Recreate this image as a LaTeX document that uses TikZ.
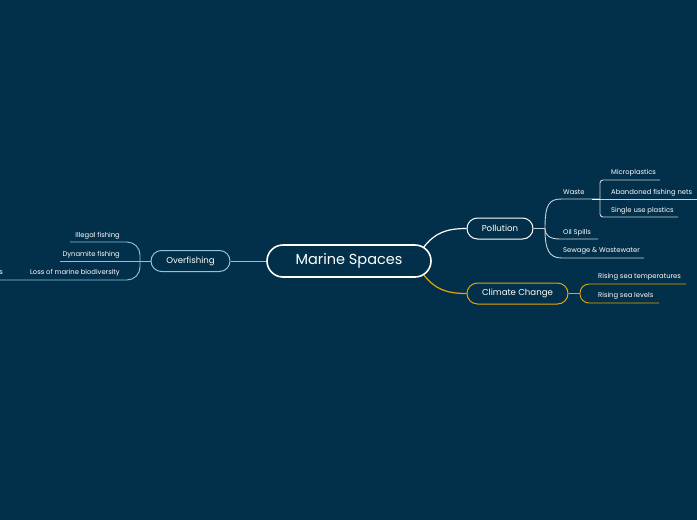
\documentclass[tikz,border=0pt]{standalone}
\usepackage{fontspec}
\setmainfont{Poppins}
\usetikzlibrary{calc}
\definecolor{bg}{HTML}{02304A}
\definecolor{lblue}{HTML}{8CC4DE}
\definecolor{gold}{HTML}{E5A600}
\definecolor{lgrey}{HTML}{C9D3D9}
\begin{document}
\begin{tikzpicture}[x=1pt,y=-1pt,
  topic/.style={draw=white, line width=1.6pt, rounded corners=16pt, minimum width=164pt, minimum height=32pt, text=white, font=\fontsize{14.5}{17}\selectfont, inner sep=0pt},
  mainbr/.style={draw, line width=1pt, rounded corners=10.5pt, text=white, font=\fontsize{8.6}{10}\selectfont, minimum height=21pt, inner sep=0pt},
  leaf/.style={text=white, font=\fontsize{6.8}{8}\selectfont, inner sep=0pt},
  brl/.style={line width=0.9pt}
]
\fill[bg] (0,0) rectangle (697,520);
\useasboundingbox (0,0) rectangle (697,520);

% main topic
\node[topic] (ms) at (349,261) {Marine Spaces};

% main branches
\node[mainbr, draw=lblue, minimum width=79pt] (of) at (190.5,261) {Overfishing};
\node[mainbr, draw=white, minimum width=66pt] (po) at (500,228.5) {Pollution};
\node[mainbr, draw=gold, minimum width=101pt] (cc) at (517.5,293.5) {Climate Change};

\draw[lblue, line width=1pt] (ms.west) -- (of.east);
\draw[white, line width=1.2pt] ($(ms.east)+(-8,-14)$) .. controls (435,233) and (446,228.5) .. (po.west);
\draw[gold, line width=1.2pt] ($(ms.east)+(-8,14)$) .. controls (435,289) and (446,293.5) .. (cc.west);

% Overfishing children
\node[leaf, anchor=east] (ill) at (120,235.5) {Illegal fishing};
\node[leaf, anchor=east] (dyn) at (120,254.5) {Dynamite fishing};
\node[leaf, anchor=east] (los) at (120,273) {Loss of marine biodiversity};
\node[leaf, anchor=east] (hab) at (3,273) {s};
\draw[lblue, brl] (of.west) -- (60,261);
\draw[lblue, brl, rounded corners=13pt] (70,242) -- (140,242) -- (140,280) -- (0,280);

% Pollution children
\node[leaf, anchor=west] (was) at (563,192.5) {Waste};
\node[leaf, anchor=west] (oil) at (563,232.5) {Oil Spills};
\node[leaf, anchor=west] (sew) at (563,251) {Sewage \& Wastewater};
\coordinate (pj) at (545,228.5);
\draw[lgrey, brl] (po.east) -- (pj);
\draw[lgrey, brl] (pj) .. controls (545,204) and (549,199) .. (562,199) -- (600,199);
\draw[lgrey, brl] (pj) .. controls (545,235) and (549,239) .. (560,239) -- (598,239);
\draw[lgrey, brl] (pj) .. controls (545,250) and (549,258) .. (562,258) -- (644,258);

% Waste children
\node[leaf, anchor=west] (mic) at (611,173) {Microplastics};
\node[leaf, anchor=west] (aba) at (611,192.5) {Abandoned fishing nets};
\node[leaf, anchor=west] (sin) at (611,211) {Single use plastics};
\draw[lgrey, brl, rounded corners=3pt] (660,180) -- (600,180) -- (600,217) -- (678,217);
\draw[lgrey, brl] (600,199) -- (697,199);
\draw[white, line width=1pt] (592,199) -- (600,199);

% Climate children
\node[leaf, anchor=west] (rst) at (598,277) {Rising sea temperatures};
\node[leaf, anchor=west] (rsl) at (598,296) {Rising sea levels};
\draw[gold, line width=1.2pt] (cc.east) -- (580,293.5);
\draw[gold, brl, rounded corners=9pt] (686,284) -- (580,284) -- (580,303) -- (659,303);
\end{tikzpicture}
\end{document}
